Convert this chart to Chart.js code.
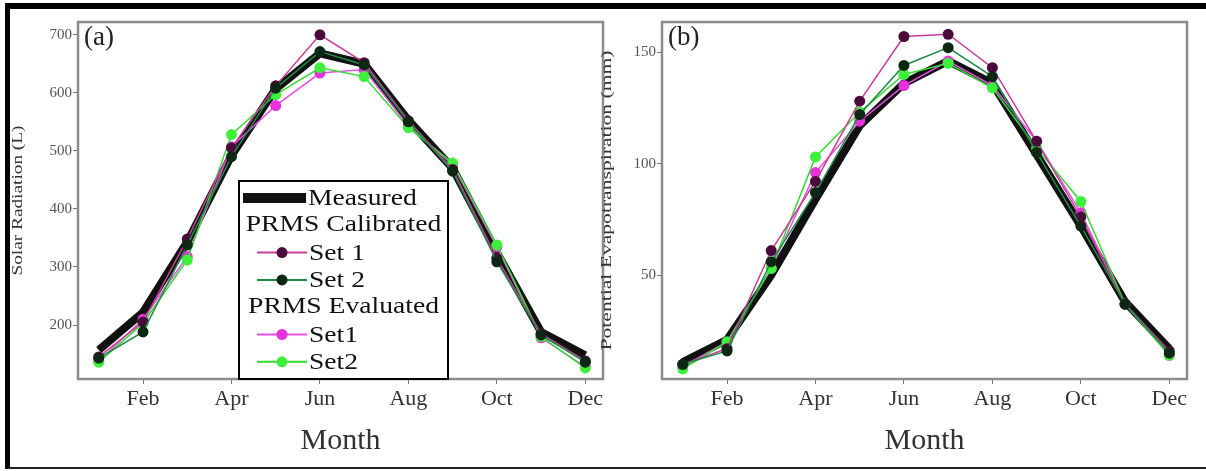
<!DOCTYPE html>
<html>
<head>
<meta charset="utf-8">
<script src="https://cdn.jsdelivr.net/npm/chart.js@4.4.1/dist/chart.umd.min.js"></script>
<style>
  html, body { margin: 0; padding: 0; background: #fff; }
  body { width: 1206px; height: 471px; position: relative; overflow: hidden; }
  #frame { position: absolute; left: 5px; top: 3px; width: 1201px; height: 466px; box-sizing: border-box;
           border-top: 6px solid #000; border-left: 5px solid #000; border-bottom: 2px solid #222; }
  .panel { position: absolute; top: 9px; width: 600px; height: 458px; }
  #panelA { left: 10px; }
  #panelB { left: 600px; }
</style>
</head>
<body>
<div id="frame"></div>
<div class="panel" id="panelA"><canvas id="chartA"></canvas></div>
<div class="panel" id="panelB"><canvas id="chartB"></canvas></div>
<script>
// month names, used for the x tick labels
const months = ["Jan", "Feb", "Mar", "Apr", "May", "Jun", "Jul", "Aug", "Sep", "Oct", "Nov", "Dec"];

// (a) solar radiation (L)
const solarMeasured = [157, 222, 343, 492, 607, 668, 650, 553, 470, 325, 188, 148];
const solarCalSet1  = [145, 205, 348, 505, 612, 700, 652, 552, 468, 315, 185, 138];
const solarCalSet2  = [143, 188, 338, 490, 608, 671, 648, 550, 465, 309, 183, 136];
const solarEvalSet1 = [138, 210, 318, 507, 578, 634, 640, 543, 476, 335, 178, 128];
const solarEvalSet2 = [136, 203, 312, 528, 597, 643, 628, 540, 479, 338, 180, 126];

// (b) potential evapotranspiration (mm)
const petMeasured = [11, 21, 50, 84, 117, 136, 146, 136, 104, 72, 38, 17];
const petCalSet1  = [10, 17, 61, 92, 128, 157, 158, 143, 110, 76, 37, 16];
const petCalSet2  = [10, 16, 56, 87, 122, 144, 152, 139, 105, 72, 37, 15];
const petEvalSet1 = [9, 20, 53, 96, 119, 135, 146, 135, 110, 78, 37, 14];
const petEvalSet2 = [8, 20, 53, 103, 123, 140, 145, 134, 107, 83, 37, 14];

const SERIF = '"Liberation Serif", "Times New Roman", serif';

function pts(values) {
    return values.map((v, i) => ({ x: i + 1, y: v }));
}

function makeDatasets(measured, c1, c2, e1, e2) {
    return [
        { label: "Measured", data: pts(measured), borderColor: "#111", borderWidth: 8, pointRadius: 0, order: 5 },
        { label: "Set 1", data: pts(c1), borderColor: "#c83c96", backgroundColor: "#4b0a3c", pointBackgroundColor: "#4b0a3c", borderWidth: 1.5, pointRadius: 5.5, pointBorderWidth: 0, order: 2 },
        { label: "Set 2", data: pts(c2), borderColor: "#1e8c46", backgroundColor: "#0c2814", pointBackgroundColor: "#0c2814", borderWidth: 1.5, pointRadius: 5.5, pointBorderWidth: 0, order: 1 },
        { label: "Set1", data: pts(e1), borderColor: "#e650e6", backgroundColor: "#e632dc", pointBackgroundColor: "#e632dc", borderWidth: 1.5, pointRadius: 5.5, pointBorderWidth: 0, order: 4 },
        { label: "Set2", data: pts(e2), borderColor: "#32dc32", backgroundColor: "#3cf03c", pointBackgroundColor: "#3cf03c", borderWidth: 1.5, pointRadius: 5.5, pointBorderWidth: 0, order: 3 }
    ];
}

// box around the plot, panel tag and the stretched y title
const panelDeco = {
    id: "panelDeco",
    beforeDatasetsDraw(chart, args, opts) {
        const { ctx, chartArea: a } = chart;
        ctx.save();
        ctx.strokeStyle = "#8c8c8c";
        ctx.lineWidth = 2.5;
        ctx.strokeRect(a.left, a.top, a.right - a.left, a.bottom - a.top);
        ctx.restore();
    },
    afterDraw(chart, args, opts) {
        const { ctx, chartArea: a } = chart;
        ctx.save();
        ctx.fillStyle = "#222";
        ctx.font = "27px " + SERIF;
        ctx.textBaseline = "top";
        ctx.textAlign = "left";
        ctx.fillText(opts.tag, a.left + 6, a.top + 2);

        ctx.font = "15px " + SERIF;
        ctx.fillStyle = "#333";
        ctx.textBaseline = "middle";
        ctx.textAlign = "center";
        const w = ctx.measureText(opts.yTitle).width;
        ctx.translate(opts.yTitleX, (a.top + a.bottom) / 2);
        ctx.rotate(-Math.PI / 2);
        ctx.scale(opts.yTitleLen / w, 1);
        ctx.fillText(opts.yTitle, 0, 0);
        ctx.restore();
    }
};

// boxed legend with group headers, drawn inside panel (a)
const groupLegend = {
    id: "groupLegend",
    afterDraw(chart, args, opts) {
        if (!opts.rows) return;
        const { ctx, chartArea: a } = chart;
        const ds = chart.data.datasets;
        const left = a.left + opts.dx, top = a.top + opts.dy, w = opts.width, h = a.bottom - top;
        ctx.save();
        ctx.fillStyle = "#fff";
        ctx.fillRect(left, top, w, h);
        ctx.strokeStyle = "#000";
        ctx.lineWidth = 2;
        ctx.strokeRect(left, top, w, h);

        const text = (s, x, y, align) => {
            ctx.save();
            ctx.font = "23px " + SERIF;
            ctx.fillStyle = "#111";
            ctx.textBaseline = "middle";
            ctx.textAlign = align;
            ctx.translate(x, y);
            ctx.scale(1.2, 1);
            ctx.fillText(s, 0, 0);
            ctx.restore();
        };

        opts.rows.forEach((r, i) => {
            const y = top + 17 + i * 27.3;
            if (r.header) {
                text(r.header, left + w / 2, y, "center");
                return;
            }
            const d = ds[r.ds];
            if (r.ds === 0) {
                ctx.strokeStyle = d.borderColor;
                ctx.lineWidth = 10;
                ctx.beginPath();
                ctx.moveTo(left + 4, y);
                ctx.lineTo(left + 67, y);
                ctx.stroke();
                text(d.label, left + 69, y + 1, "left");
                return;
            }
            ctx.strokeStyle = d.borderColor;
            ctx.lineWidth = 2;
            ctx.beginPath();
            ctx.moveTo(left + 18, y);
            ctx.lineTo(left + 68, y);
            ctx.stroke();
            ctx.fillStyle = d.pointBackgroundColor;
            ctx.beginPath();
            ctx.arc(left + 43, y, 5.5, 0, Math.PI * 2);
            ctx.fill();
            text(d.label, left + 70, y + 1, "left");
        });
        ctx.restore();
    }
};

function makeChart(id, datasets, yMin, yMax, yStep, yAxisWidth, padRight, deco, legend) {
    return new Chart(document.getElementById(id), {
        type: "line",
        data: { datasets },
        options: {
            responsive: true,
            maintainAspectRatio: false,
            animation: false,
            devicePixelRatio: 1,
            layout: { padding: { top: 13, right: padRight, left: 0, bottom: 0 } },
            plugins: {
                legend: { display: false },
                tooltip: { enabled: false },
                panelDeco: deco,
                groupLegend: legend
            },
            scales: {
                x: {
                    type: "linear",
                    min: 0.53,
                    max: 12.4,
                    border: { display: false },
                    grid: { drawOnChartArea: false, tickLength: 5, color: "#777", tickWidth: 1 },
                    ticks: {
                        stepSize: 2,
                        includeBounds: false,
                        padding: 2,
                        color: "#333",
                        font: { family: SERIF, size: 22 },
                        callback: v => months[v - 1]
                    },
                    title: {
                        display: true,
                        text: "Month",
                        color: "#333",
                        font: { family: SERIF, size: 30 },
                        padding: { top: 0, bottom: 8 }
                    },
                    afterFit: s => { s.height = 88; }
                },
                y: {
                    min: yMin,
                    max: yMax,
                    border: { display: false },
                    grid: { drawOnChartArea: false, tickLength: 5, color: "#777", tickWidth: 1 },
                    ticks: {
                        stepSize: yStep,
                        includeBounds: false,
                        padding: 1,
                        color: "#555",
                        font: { family: SERIF, size: 15 }
                    },
                    afterFit: s => { s.width = yAxisWidth; }
                }
            }
        },
        plugins: [panelDeco, groupLegend]
    });
}

makeChart("chartA",
    makeDatasets(solarMeasured, solarCalSet1, solarCalSet2, solarEvalSet1, solarEvalSet2),
    107, 722, 100, 68, 7,
    { tag: "(a)", yTitle: "Solar Radiation (L)", yTitleX: 8, yTitleLen: 150 },
    {
        dx: 161, dy: 159, width: 209,
        rows: [
            { ds: 0 },
            { header: "PRMS Calibrated" },
            { ds: 1 },
            { ds: 2 },
            { header: "PRMS Evaluated" },
            { ds: 3 },
            { ds: 4 }
        ]
    });

makeChart("chartB",
    makeDatasets(petMeasured, petCalSet1, petCalSet2, petEvalSet1, petEvalSet2),
    3.4, 163.5, 50, 62, 13,
    { tag: "(b)", yTitle: "Potential Evapotranspiration (mm)", yTitleX: 7, yTitleLen: 300 },
    {});
</script>
</body>
</html>
